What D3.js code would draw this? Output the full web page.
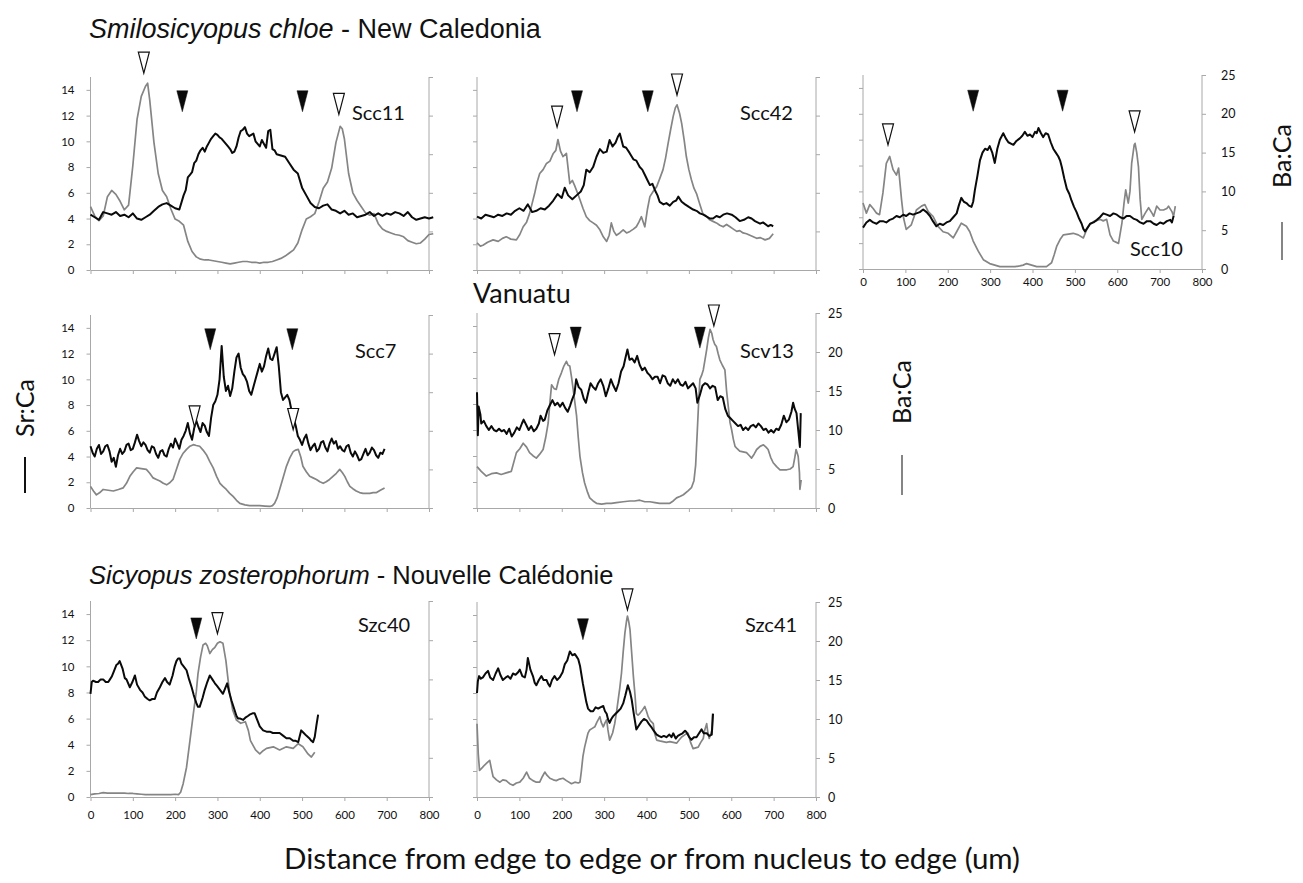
<!DOCTYPE html>
<html><head><meta charset="utf-8">
<script src="https://cdn.jsdelivr.net/npm/d3@7"></script>
<style>html,body{margin:0;padding:0;background:#fff;} svg{display:block}</style>
</head><body>
<svg id="chart" width="1303" height="883"></svg>
<script>
// ---------------- DATA ----------------
const xTicks = [0,100,200,300,400,500,600,700,800];
const srTicks = [0,2,4,6,8,10,12,14];
const baTicks = [0,5,10,15,20,25];

// Sr:Ca (left axis, black) and Ba:Ca (right axis, grey) — [distance um, value]
const srScc11 = [[0,4.3],[10,4.1],[20,3.9],[30,4.5],[40,4.4],[50,4.3],[60,4.5],[70,4.2],[80,4.3],[90,4.1],[100,4.4],[110,4.0],[120,3.9],[130,4.1],[140,4.3],[150,4.6],[160,4.9],[170,5.1],[180,5.2],[190,5.0],[200,4.8],[210,4.7],[220,5.8],[225,6.2],[230,7.2],[235,7.4],[240,7.6],[245,8.3],[250,8.5],[255,9.0],[260,9.3],[265,9.5],[270,9.2],[275,9.6],[280,9.9],[285,10.2],[290,10.4],[295,10.6],[300,10.5],[305,10.3],[310,10.2],[315,10.0],[320,9.8],[325,9.6],[330,9.4],[335,9.1],[340,9.2],[345,9.6],[350,10.3],[355,10.8],[360,10.9],[365,11.1],[370,10.6],[375,10.4],[380,10.5],[385,10.6],[390,10.0],[395,9.8],[400,9.6],[405,10.1],[410,9.8],[415,9.5],[420,10.8],[425,10.9],[430,9.4],[435,9.3],[440,9.0],[450,8.9],[460,8.8],[470,8.3],[480,7.8],[490,7.5],[500,6.4],[510,5.8],[520,5.2],[530,4.9],[540,4.8],[550,5.0],[560,5.1],[570,4.7],[580,4.6],[590,4.4],[600,4.6],[610,4.3],[620,4.4],[630,4.1],[640,4.2],[650,4.3],[660,4.5],[670,4.2],[680,4.4],[690,4.2],[700,4.4],[710,4.3],[720,4.5],[730,4.4],[740,4.2],[750,4.5],[760,4.1],[770,3.9],[780,4.0],[790,4.1],[800,4.0],[810,4.1]];
const baScc11 = [[0,8.2],[10,7.0],[20,6.4],[30,7.0],[40,9.5],[50,10.3],[60,9.8],[70,8.9],[80,7.8],[90,8.4],[100,13.5],[110,19.5],[120,22.5],[130,23.8],[135,24.2],[140,22.0],[150,16.5],[160,12.5],[170,10.3],[180,9.5],[190,7.9],[200,6.6],[210,6.3],[220,5.8],[230,3.7],[240,2.4],[250,1.7],[260,1.4],[270,1.3],[280,1.3],[290,1.2],[300,1.1],[310,1.0],[320,0.9],[330,0.8],[340,0.9],[350,1.0],[360,1.1],[370,1.1],[380,1.0],[390,1.0],[400,0.9],[410,1.0],[420,1.0],[430,1.1],[440,1.3],[450,1.5],[460,1.8],[470,2.2],[480,2.6],[490,3.5],[500,5.2],[510,6.6],[520,6.9],[530,7.3],[540,8.8],[550,10.6],[560,11.4],[570,13.2],[580,16.5],[590,18.6],[595,18.3],[600,17.0],[610,12.5],[620,10.0],[630,9.0],[640,8.2],[650,7.4],[660,7.1],[670,7.3],[680,6.0],[690,5.3],[700,5.0],[710,4.8],[720,4.6],[730,4.5],[740,4.3],[750,3.8],[760,3.6],[770,3.4],[780,3.5],[790,4.0],[800,4.6],[810,4.7]];

const srScc42 = [[0,4.15],[10,4.0],[20,4.3],[30,4.2],[40,4.1],[50,4.3],[60,4.2],[70,4.4],[80,4.3],[90,4.6],[100,4.8],[110,4.6],[120,5.1],[130,4.5],[140,4.6],[150,4.8],[160,4.7],[170,5.0],[180,5.4],[190,5.9],[200,5.6],[207,6.4],[215,5.8],[225,5.5],[235,5.8],[245,6.1],[252,6.6],[258,7.8],[266,7.6],[274,8.0],[282,8.8],[290,9.4],[298,9.1],[306,9.2],[313,10.1],[320,9.6],[327,9.9],[333,10.4],[337,10.6],[345,9.6],[352,9.5],[360,9.1],[369,8.6],[376,8.5],[384,8.0],[390,7.8],[396,7.4],[402,7.0],[408,6.6],[414,6.7],[420,6.2],[426,5.8],[431,5.3],[440,5.1],[447,5.2],[455,5.0],[463,5.3],[470,5.4],[475,5.7],[483,5.3],[491,5.1],[500,4.9],[510,4.7],[518,4.6],[526,4.4],[534,4.3],[542,4.15],[550,4.0],[557,4.0],[565,4.2],[573,4.1],[581,4.3],[590,4.4],[601,4.3],[610,4.1],[620,3.8],[630,3.9],[640,4.1],[648,4.0],[656,3.8],[668,3.6],[675,3.7],[687,3.4],[693,3.5],[699,3.4]];
const baScc42 = [[0,3.5],[8,3.1],[14,3.2],[25,3.6],[38,3.9],[50,3.7],[60,4.1],[69,4.3],[80,4.0],[93,3.9],[101,4.6],[109,5.6],[117,6.2],[124,7.3],[130,8.6],[136,9.9],[142,11.4],[148,12.5],[156,13.0],[164,13.8],[172,14.1],[180,15.1],[186,15.5],[191,16.9],[197,15.4],[203,14.7],[211,15.1],[219,11.2],[225,11.6],[230,11.0],[237,10.0],[243,9.1],[250,8.0],[258,6.9],[266,6.4],[274,6.1],[282,5.8],[290,5.2],[298,4.3],[306,3.7],[312,4.5],[317,6.1],[323,5.0],[329,4.5],[337,4.8],[345,5.2],[353,4.8],[361,5.0],[369,5.3],[376,5.6],[382,6.2],[388,6.9],[396,5.6],[402,7.8],[408,9.5],[416,10.2],[424,10.8],[431,11.8],[439,13.0],[445,14.5],[451,16.4],[457,18.2],[463,19.9],[468,21.0],[472,21.4],[478,20.3],[483,19.0],[489,16.8],[494,14.7],[500,13.0],[506,11.7],[512,10.6],[518,9.9],[526,8.5],[533,7.3],[541,7.0],[549,6.5],[557,6.3],[565,6.1],[573,5.8],[581,5.6],[589,5.9],[597,5.6],[605,5.3],[613,5.0],[620,5.1],[628,4.8],[636,4.7],[644,4.5],[652,4.3],[660,4.1],[668,4.2],[680,3.9],[690,4.1],[699,4.7]];

const srScc10 = [[0,3.2],[8,3.6],[16,3.8],[24,3.6],[32,3.5],[40,3.7],[47,3.7],[55,3.6],[63,3.8],[71,3.9],[79,4.1],[87,4.0],[95,4.2],[102,4.1],[110,4.3],[118,4.2],[126,4.3],[134,4.4],[142,4.6],[150,4.4],[158,4.1],[165,3.7],[173,3.3],[181,3.5],[189,3.4],[197,3.6],[205,3.7],[213,4.0],[221,4.3],[226,4.9],[232,5.5],[238,5.2],[244,5.1],[250,4.9],[256,4.8],[260,5.2],[264,6.1],[270,7.2],[276,8.4],[282,9.0],[288,9.3],[294,9.2],[299,9.5],[305,9.0],[311,8.2],[317,9.3],[323,10.0],[331,10.5],[337,10.1],[343,9.8],[349,9.7],[355,9.6],[362,9.9],[370,10.1],[376,10.3],[382,10.6],[388,10.3],[394,10.4],[400,10.2],[406,10.6],[410,10.5],[414,10.9],[420,10.5],[425,10.2],[431,10.5],[437,10.4],[443,9.8],[449,9.3],[455,9.0],[461,8.7],[465,8.4],[469,7.9],[475,7.0],[481,6.2],[487,5.8],[492,5.3],[498,4.8],[504,4.4],[510,3.9],[516,3.5],[520,3.1],[524,2.9],[530,3.2],[536,3.5],[544,3.6],[552,3.8],[559,4.0],[567,4.3],[575,4.2],[583,4.1],[591,4.3],[599,4.2],[607,4.0],[615,3.9],[622,4.1],[630,4.1],[638,3.9],[646,3.8],[654,3.6],[662,3.5],[670,3.7],[678,3.7],[686,3.5],[693,3.4],[701,3.6],[709,3.5],[717,3.7],[725,3.8],[729,3.6],[733,4.1]];
const baScc10 = [[0,8.5],[8,7.2],[16,8.3],[24,7.8],[32,7.2],[39,7.0],[47,9.8],[55,13.6],[63,14.5],[71,12.8],[79,12.1],[84,13.0],[91,8.9],[96,6.5],[102,5.1],[114,5.7],[126,7.6],[138,8.1],[146,8.3],[154,7.4],[165,6.8],[177,5.5],[189,4.8],[201,4.6],[213,4.0],[221,4.8],[232,5.9],[244,5.5],[252,4.8],[260,3.6],[272,2.3],[284,1.2],[299,0.7],[311,0.5],[323,0.3],[335,0.3],[347,0.3],[359,0.3],[370,0.4],[378,0.5],[386,0.7],[398,0.5],[410,0.3],[422,0.3],[433,0.3],[445,0.8],[451,1.8],[457,2.9],[465,3.8],[473,4.4],[485,4.5],[496,4.6],[508,4.4],[520,4.0],[528,5.1],[536,5.8],[544,6.1],[559,6.4],[567,6.2],[575,6.4],[583,4.4],[591,3.6],[603,3.3],[611,5.9],[616,8.5],[620,10.2],[626,8.5],[630,10.0],[634,13.6],[640,16.0],[642,16.2],[646,15.0],[650,13.2],[654,9.0],[658,6.4],[666,7.2],[674,7.9],[682,7.2],[686,6.8],[693,8.1],[701,7.6],[709,7.6],[717,7.8],[721,8.1],[729,7.4],[733,6.8],[737,8.1]];

const srScc7 = [[0,4.8],[5,4.3],[10,4.0],[15,4.6],[20,4.9],[25,4.2],[30,4.4],[35,4.8],[40,4.9],[45,4.4],[50,3.6],[55,3.9],[60,3.2],[65,4.1],[70,4.6],[75,4.2],[80,4.4],[85,4.9],[90,5.0],[95,4.5],[100,4.6],[105,5.1],[110,5.7],[115,5.2],[120,4.8],[125,5.1],[130,4.9],[135,4.5],[140,4.3],[145,4.8],[150,4.7],[155,4.2],[160,3.9],[165,4.4],[170,4.5],[175,4.1],[180,4.0],[185,4.6],[190,5.0],[195,4.7],[200,5.4],[205,5.0],[210,4.6],[215,5.3],[220,5.6],[225,6.0],[230,6.6],[235,5.8],[240,5.3],[245,6.2],[250,6.8],[255,6.3],[260,5.9],[265,6.6],[270,6.4],[275,5.9],[280,5.6],[285,7.0],[290,8.0],[295,8.3],[300,8.8],[305,10.0],[310,12.6],[315,10.2],[320,9.1],[325,9.5],[330,8.7],[335,9.3],[340,10.6],[345,11.7],[350,12.0],[355,10.9],[360,10.4],[365,10.2],[370,9.8],[375,9.1],[380,8.8],[385,9.4],[390,10.0],[395,10.6],[400,11.2],[405,10.6],[410,11.0],[415,11.8],[420,12.4],[425,11.6],[430,11.5],[435,12.0],[440,12.5],[445,11.0],[450,9.0],[455,8.4],[460,8.6],[465,8.8],[470,8.4],[475,7.6],[480,7.0],[485,6.4],[490,5.6],[495,5.3],[500,4.9],[505,5.4],[510,5.7],[515,5.0],[520,4.5],[525,4.8],[530,5.0],[535,4.4],[540,4.6],[545,5.1],[550,5.2],[555,4.7],[560,4.4],[565,5.0],[570,5.4],[575,5.0],[580,5.2],[585,4.6],[590,4.8],[595,4.5],[600,4.4],[605,4.8],[610,4.9],[615,4.3],[620,4.0],[625,4.4],[630,4.1],[635,3.7],[640,3.8],[645,4.2],[650,4.6],[655,4.1],[660,4.3],[665,4.7],[670,4.5],[675,4.1],[680,3.9],[685,4.3],[690,4.2],[695,4.6]];
const baScc7 = [[0,2.8],[7,2.2],[14,1.7],[22,2.0],[30,2.4],[42,2.3],[54,2.2],[66,2.4],[77,2.6],[85,3.2],[93,4.1],[101,4.7],[109,5.2],[120,5.1],[132,5.0],[140,4.5],[148,3.9],[156,3.7],[164,3.5],[172,3.2],[180,3.0],[188,3.3],[195,3.7],[203,5.0],[211,6.3],[219,7.1],[227,7.6],[235,8.0],[243,8.2],[250,8.1],[258,8.0],[266,7.5],[274,6.9],[282,6.0],[290,5.2],[298,4.1],[306,3.2],[313,2.8],[321,2.4],[329,1.9],[337,1.5],[345,1.0],[353,0.6],[365,0.4],[376,0.3],[388,0.3],[400,0.3],[412,0.25],[424,0.2],[430,0.3],[435,0.6],[441,1.3],[447,2.4],[455,3.9],[463,5.4],[471,6.5],[479,7.3],[485,7.5],[491,7.6],[497,6.6],[502,5.4],[510,4.7],[518,4.1],[526,3.9],[534,3.7],[542,3.4],[550,3.2],[557,3.4],[565,3.7],[573,4.1],[581,4.5],[589,5.0],[595,4.6],[601,4.1],[607,3.4],[613,2.8],[620,2.5],[628,2.2],[636,2.0],[644,1.9],[652,1.9],[660,1.9],[668,2.0],[676,2.0],[685,2.3],[695,2.6]];

const srScv13 = [[0,8.9],[2,5.6],[4,7.8],[8,7.2],[10,6.5],[16,6.7],[22,6.3],[28,6.0],[34,6.3],[40,6.0],[46,5.9],[52,6.1],[58,5.9],[64,6.0],[70,5.7],[76,6.1],[82,5.5],[88,5.8],[94,6.2],[100,6.0],[106,6.5],[110,6.8],[116,6.4],[122,6.0],[128,6.3],[134,5.9],[140,6.1],[146,6.5],[150,7.1],[156,6.7],[160,6.8],[166,7.5],[172,7.9],[178,8.3],[184,7.9],[190,8.1],[196,7.8],[202,8.1],[208,7.7],[214,7.4],[220,7.9],[224,8.3],[230,8.8],[234,9.9],[240,9.3],[246,9.1],[252,8.4],[257,8.1],[262,8.8],[268,9.6],[274,9.3],[280,9.1],[286,9.6],[292,9.9],[298,9.4],[304,8.6],[310,9.2],[316,9.9],[322,9.4],[328,9.0],[334,9.6],[340,10.5],[346,10.9],[350,11.5],[355,12.2],[360,11.4],[366,11.5],[372,11.2],[378,11.7],[384,11.0],[390,10.6],[396,10.8],[402,10.4],[408,10.2],[414,9.9],[420,10.1],[426,10.1],[432,9.6],[438,10.2],[444,10.1],[450,9.6],[456,9.4],[462,9.9],[468,9.6],[474,9.9],[480,9.5],[486,9.4],[492,9.7],[498,9.2],[504,9.4],[510,9.6],[516,9.2],[520,8.1],[526,8.7],[532,9.4],[538,9.6],[544,9.5],[550,9.2],[556,9.4],[562,9.3],[568,8.3],[574,8.6],[580,8.5],[586,7.6],[592,7.1],[598,6.9],[604,6.7],[610,6.5],[616,6.3],[622,6.4],[628,6.0],[634,6.2],[640,6.0],[646,6.3],[652,6.4],[658,6.2],[664,6.5],[670,6.3],[676,6.0],[682,6.1],[688,5.8],[694,6.0],[700,5.8],[706,6.1],[712,6.0],[718,6.4],[724,7.1],[730,6.6],[736,6.8],[742,7.4],[746,8.1],[750,7.6],[754,7.3],[758,6.0],[762,4.7],[764,7.3]];
const baScv13 = [[0,5.3],[10,4.7],[22,4.1],[34,4.4],[46,4.5],[57,4.3],[69,4.5],[81,4.7],[93,7.1],[101,7.6],[109,8.3],[117,7.8],[124,7.1],[132,6.7],[140,6.4],[148,6.9],[156,7.5],[162,9.0],[168,10.9],[172,13.5],[176,15.8],[182,15.3],[187,15.2],[193,16.5],[199,17.3],[205,18.2],[211,18.8],[215,18.3],[219,18.2],[223,16.8],[227,15.2],[231,13.5],[235,11.8],[239,9.0],[243,6.6],[249,4.5],[254,3.2],[261,2.0],[266,1.3],[274,0.9],[282,0.6],[294,0.5],[306,0.6],[317,0.6],[329,0.7],[345,0.8],[361,0.9],[372,0.9],[384,1.0],[396,0.8],[408,0.8],[420,0.7],[431,0.6],[443,0.6],[455,0.6],[463,0.9],[471,1.3],[480,1.5],[487,1.7],[498,2.2],[506,2.6],[512,3.5],[516,5.5],[520,10.0],[523,13.5],[526,16.5],[530,17.0],[534,17.7],[538,19.0],[542,20.3],[546,21.8],[550,22.9],[554,22.4],[557,21.6],[561,21.0],[565,20.7],[569,19.8],[573,19.0],[579,18.3],[585,17.7],[589,15.0],[593,13.0],[597,11.0],[601,10.0],[605,8.8],[609,7.9],[614,7.6],[620,7.3],[628,7.2],[636,7.1],[643,6.7],[648,6.4],[654,6.9],[660,7.5],[668,7.9],[676,8.1],[682,7.8],[687,7.5],[693,6.5],[699,5.8],[707,5.3],[715,4.9],[723,4.9],[731,4.9],[739,5.0],[746,5.3],[750,6.5],[753,7.5],[756,7.0],[758,6.6],[761,4.5],[762,2.4],[765,3.6]];

const srSzc40 = [[0,7.9],[3,8.8],[6,8.9],[13,8.8],[18,8.8],[24,9.0],[30,9.0],[36,8.8],[42,8.8],[46,9.0],[50,9.2],[55,9.6],[61,10.1],[65,10.2],[69,10.4],[76,9.8],[81,9.1],[85,9.0],[93,8.4],[99,8.8],[105,9.3],[110,8.6],[117,8.2],[123,8.0],[128,7.7],[135,7.5],[140,7.4],[146,7.5],[152,7.5],[157,8.0],[164,8.4],[170,8.8],[176,9.1],[181,8.8],[187,8.6],[194,9.3],[199,10.0],[203,10.4],[207,10.6],[211,10.6],[215,10.2],[220,10.0],[227,9.7],[233,9.0],[239,8.4],[244,7.8],[250,7.2],[254,6.9],[258,6.9],[265,7.6],[270,8.2],[276,8.8],[282,9.3],[288,9.0],[294,8.7],[299,8.5],[306,8.2],[313,7.9],[318,8.3],[323,8.7],[328,8.0],[333,7.4],[337,7.0],[341,6.6],[345,6.2],[349,6.0],[354,6.0],[361,5.9],[367,6.1],[372,6.2],[376,6.3],[383,6.4],[388,6.4],[394,5.9],[400,5.4],[408,5.1],[416,5.0],[424,5.0],[431,4.9],[439,4.9],[447,4.9],[455,4.7],[463,4.5],[471,4.5],[479,4.3],[485,4.3],[491,4.2],[494,4.6],[498,5.1],[504,4.9],[510,4.7],[517,4.5],[522,4.3],[526,4.2],[530,4.6],[534,5.5],[538,6.3]];
const baSzc40 = [[0,0.3],[10,0.4],[20,0.45],[30,0.55],[40,0.5],[50,0.5],[60,0.5],[70,0.5],[80,0.5],[90,0.45],[100,0.45],[110,0.4],[120,0.35],[130,0.3],[140,0.3],[150,0.3],[160,0.3],[170,0.3],[180,0.3],[190,0.3],[200,0.35],[208,0.3],[213,0.6],[219,1.7],[227,3.8],[235,7.2],[243,10.6],[250,13.4],[254,15.7],[260,17.8],[266,19.4],[272,19.6],[276,19.3],[282,18.3],[288,18.8],[294,19.1],[300,19.6],[306,19.8],[313,19.6],[320,17.4],[328,13.6],[336,11.1],[345,9.8],[355,9.4],[366,9.6],[373,8.5],[378,7.2],[390,6.0],[400,5.5],[408,5.9],[416,6.2],[432,6.4],[447,6.0],[463,6.4],[479,6.2],[491,6.8],[502,6.4],[514,5.5],[522,5.1],[530,5.7]];

const srSzc41 = [[0,8.0],[2,8.9],[5,9.3],[9,9.1],[14,9.2],[20,9.5],[26,9.7],[31,9.2],[38,9.0],[44,9.5],[50,9.9],[55,9.4],[61,9.0],[68,9.2],[73,9.3],[79,9.1],[85,9.5],[91,9.4],[97,9.6],[101,9.8],[107,9.3],[113,9.2],[117,9.8],[120,10.7],[126,9.8],[132,9.3],[136,8.8],[140,8.6],[146,9.0],[152,9.3],[157,9.0],[164,9.0],[168,8.7],[172,8.5],[177,9.0],[183,9.3],[189,9.0],[195,9.2],[202,9.6],[207,10.2],[213,10.5],[219,11.2],[225,10.9],[231,11.0],[235,10.8],[239,10.6],[243,10.1],[246,9.5],[250,8.7],[254,8.0],[258,7.3],[262,6.8],[268,6.6],[274,6.6],[280,6.9],[286,6.8],[291,6.9],[298,7.0],[302,6.6],[306,6.4],[309,6.0],[313,5.7],[317,6.0],[321,6.2],[327,6.4],[333,6.6],[339,6.8],[345,7.2],[350,7.8],[356,8.6],[361,8.1],[365,7.5],[370,6.4],[376,5.2],[382,5.5],[388,5.8],[394,6.0],[400,5.9],[406,5.6],[411,5.4],[417,5.1],[424,4.8],[429,4.7],[435,4.6],[441,4.7],[447,4.6],[454,4.8],[459,4.6],[463,4.9],[469,4.5],[474,4.7],[479,4.8],[485,4.9],[491,5.1],[494,5.0],[501,4.6],[506,4.4],[512,4.6],[518,4.6],[524,4.9],[530,5.2],[535,4.9],[542,4.9],[548,4.7],[554,4.8],[556,5.8],[557,6.4]];
const baSzc41 = [[0,9.4],[3,5.5],[6,3.4],[13,3.8],[18,4.1],[24,4.4],[30,4.7],[34,3.6],[38,2.6],[46,2.2],[54,1.9],[61,2.2],[69,2.1],[77,1.7],[85,1.5],[93,1.8],[101,1.9],[109,2.4],[117,3.2],[124,2.4],[132,2.1],[140,1.9],[148,1.9],[154,2.6],[160,3.2],[165,2.8],[172,2.4],[180,2.2],[187,2.1],[195,2.3],[203,2.4],[211,2.1],[223,1.7],[231,1.9],[239,1.8],[243,1.9],[246,3.2],[250,5.2],[254,6.4],[258,7.3],[262,8.2],[266,8.6],[272,8.8],[278,9.0],[283,9.6],[290,10.3],[293,9.6],[298,9.0],[302,9.5],[306,9.9],[309,8.6],[313,7.3],[320,8.2],[325,9.4],[329,10.8],[333,12.4],[337,14.0],[341,15.9],[345,18.6],[349,21.0],[353,22.6],[355,23.2],[358,22.5],[361,21.5],[365,18.5],[369,15.5],[373,13.0],[376,10.7],[380,10.5],[384,10.7],[391,11.2],[396,11.6],[400,11.0],[404,10.3],[409,9.8],[416,9.4],[419,8.2],[424,7.3],[431,7.2],[439,7.1],[447,7.0],[455,7.1],[463,7.0],[471,6.9],[477,7.3],[483,7.7],[491,8.0],[498,8.2],[504,7.0],[510,6.2],[516,6.3],[522,6.4],[528,7.0],[534,7.5],[537,8.5],[542,9.4],[545,8.2],[548,7.5],[554,8.5],[556,10.7]];

// arrowheads: x (um), tip height (Sr:Ca units), type
const marksScc11 = [{x:126,y:15.3,t:"open"},{x:217,y:12.3,t:"fill"},{x:501,y:12.3,t:"fill"},{x:587,y:12.1,t:"open"}];
const marksScc42 = [{x:189,y:11.1,t:"open"},{x:236,y:12.3,t:"fill"},{x:403,y:12.3,t:"fill"},{x:472,y:13.6,t:"open"}];
const marksScc10 = [{x:59,y:9.6,t:"open"},{x:260,y:12.2,t:"fill"},{x:471,y:12.2,t:"fill"},{x:641,y:10.6,t:"open"}];
const marksScc7  = [{x:246,y:6.3,t:"open"},{x:283,y:12.3,t:"fill"},{x:477,y:12.3,t:"fill"},{x:479,y:6.1,t:"open"}];
const marksScv13 = [{x:183,y:11.8,t:"open"},{x:233,y:12.3,t:"fill"},{x:526,y:12.3,t:"fill"},{x:559,y:14.0,t:"open"}];
const marksSzc40 = [{x:250,y:12.1,t:"fill"},{x:300,y:12.5,t:"open"}];
const marksSzc41 = [{x:250,y:12.1,t:"fill"},{x:355,y:14.4,t:"open"}];

// ---------------- LAYOUT ----------------
const panels = [
  {name:"Scc11", sr:srScc11, ba:baScc11, marks:marksScc11, x0:90.5, x1:429, yt:77, yb:270, L:true,  R:false, X:false, lx:352, ly:120, xp:8, rp:14},
  {name:"Scc42", sr:srScc42, ba:baScc42, marks:marksScc42, x0:477,  x1:816, yt:77, yb:270, L:false, R:false, X:false, lx:740, ly:120, xp:8, rp:14},
  {name:"Scc10", sr:srScc10, ba:baScc10, marks:marksScc10, x0:863,  x1:1202, yt:75, yb:269, L:false, R:true, X:true, lx:1130, ly:256, xp:5, rp:15},
  {name:"Scc7",  sr:srScc7,  ba:baScc7,  marks:marksScc7,  x0:90.5, x1:429, yt:315, yb:508, L:true,  R:false, X:false, lx:355, ly:358, xp:8, rp:14},
  {name:"Scv13", sr:srScv13, ba:baScv13, marks:marksScv13, x0:477,  x1:816, yt:313, yb:508, L:false, R:true, X:false, lx:740, ly:358, xp:8, rp:8},
  {name:"Szc40", sr:srSzc40, ba:baSzc40, marks:marksSzc40, x0:90.5, x1:429, yt:601, yb:797, L:true,  R:false, X:true, lx:358, ly:632, xp:10, rp:14},
  {name:"Szc41", sr:srSzc41, ba:baSzc41, marks:marksSzc41, x0:477,  x1:816, yt:602, yb:797, L:false, R:true, X:true, lx:745, ly:632, xp:10, rp:8}
];

const svg = d3.select("#chart");
const axisCol = "#a8a8a8";
const lab = "Lato, 'Open Sans', sans-serif";

panels.forEach(p => {
  const x = d3.scaleLinear().domain([0,800]).range([p.x0,p.x1]);
  const yL = d3.scaleLinear().domain([0,15]).range([p.yb,p.yt]);
  const yR = d3.scaleLinear().domain([0,25]).range([p.yb,p.yt]);
  const g = svg.append("g");

  const ax = g.append("g").attr("transform",`translate(0,${p.yb})`)
    .call(d3.axisBottom(x).tickValues(xTicks).tickSize(4).tickSizeOuter(0).tickPadding(p.xp)
      .tickFormat(p.X ? d3.format("d") : ""));
  const al = g.append("g").attr("transform",`translate(${p.x0},0)`)
    .call(d3.axisLeft(yL).tickValues(srTicks).tickSize(4).tickSizeOuter(0).tickPadding(12)
      .tickFormat(p.L ? d3.format("d") : ""));
  const ar = g.append("g").attr("transform",`translate(${p.x1},0)`)
    .call(d3.axisRight(yR).tickValues(baTicks).tickSize(4).tickSizeOuter(0).tickPadding(p.rp)
      .tickFormat(p.R ? d3.format("d") : ""));
  [ax,al,ar].forEach(a => {
    a.select(".domain").attr("stroke",axisCol).attr("stroke-width",1);
    a.selectAll(".tick line").attr("stroke",axisCol);
    a.selectAll(".tick text").attr("fill","#111").style("font-family",lab).style("font-size","11.5px");
  });
  al.select(".domain").attr("d",`M0,${p.yb}V${p.yt}`);
  ar.select(".domain").attr("d",`M0,${p.yb}V${p.yt}`);
  if (p.R) ar.selectAll(".tick text").style("font-size","12.5px");

  const lineL = d3.line().x(d=>x(d[0])).y(d=>yL(d[1]));
  const lineR = d3.line().x(d=>x(d[0])).y(d=>yR(d[1]));
  g.append("path").datum(p.ba).attr("d",lineR).attr("fill","none")
    .attr("stroke","#858585").attr("stroke-width",1.7).attr("stroke-linejoin","round");
  g.append("path").datum(p.sr).attr("d",lineL).attr("fill","none")
    .attr("stroke","#0a0a0a").attr("stroke-width",2).attr("stroke-linejoin","round");

  g.selectAll("path.mk").data(p.marks).join("path").attr("class","mk")
    .attr("d", d => { const cx = x(d.x), ty = yL(d.y); return `M${cx-5.5},${ty-21}L${cx+5.5},${ty-21}L${cx},${ty}Z`; })
    .attr("fill", d => d.t==="fill" ? "#0a0a0a" : "#fff")
    .attr("stroke", "#111").attr("stroke-width", d => d.t==="fill" ? 0.5 : 1.2);

  g.append("text").attr("x",p.lx).attr("y",p.ly).text(p.name)
    .style("font-family",lab).style("font-size","20px").attr("fill","#111");
});

// titles
const t1 = svg.append("text").attr("x",89).attr("y",38)
  .style("font-family","'Liberation Sans', Arial, sans-serif").style("font-size","27px").attr("fill","#111");
t1.append("tspan").style("font-style","italic").text("Smilosicyopus chloe");
t1.append("tspan").text(" - New Caledonia");

const t2 = svg.append("text").attr("x",89).attr("y",584)
  .style("font-family","'Liberation Sans', Arial, sans-serif").style("font-size","25.5px").attr("fill","#111");
t2.append("tspan").style("font-style","italic").text("Sicyopus zosterophorum");
t2.append("tspan").text(" - Nouvelle Calédonie");

svg.append("text").attr("x",473).attr("y",303).text("Vanuatu")
  .style("font-family",lab).style("font-size","27px").attr("fill","#111");

svg.append("text").attr("x",652).attr("y",869).attr("text-anchor","middle")
  .attr("textLength",736).attr("lengthAdjust","spacingAndGlyphs")
  .text("Distance from edge to edge or from nucleus to edge (um)")
  .style("font-family",lab).style("font-size","28px").attr("fill","#111");

// rotated legend labels
function vLabel(cx, cy, txt, dashY0, dashY1, col) {
  svg.append("text").attr("transform",`translate(${cx+9},${cy}) rotate(-90)`).attr("text-anchor","middle")
    .text(txt).style("font-family",lab).style("font-size","25px").attr("fill","#111");
  svg.append("line").attr("x1",cx).attr("x2",cx).attr("y1",dashY0).attr("y2",dashY1)
    .attr("stroke",col).attr("stroke-width",2);
}
vLabel(25, 408, "Sr:Ca", 457, 493, "#111");
vLabel(902, 392, "Ba:Ca", 455, 495, "#858585");
vLabel(1282, 156, "Ba:Ca", 222, 260, "#858585");
</script>
</body></html>
